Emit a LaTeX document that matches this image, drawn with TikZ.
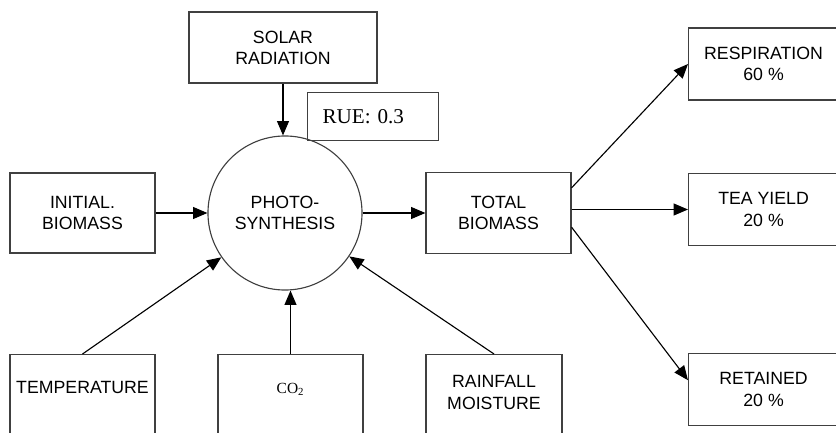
\documentclass[tikz,border=0pt]{standalone}
\usepackage{fontspec}
\setmainfont{Liberation Sans}
\newfontfamily\serifrm{Liberation Serif}
\usetikzlibrary{arrows.meta, positioning}

\tikzset{
  box/.style={draw=black!75, line width=0.8pt, minimum width=3.625cm, align=center,
    font=\fontsize{12.6}{15}\selectfont},
  sidebox/.style={box, minimum width=3.75cm, minimum height=1.8cm, anchor=west},
  lowbox/.style={box, anchor=north, text depth=3cm},
  ruebox/.style={draw=black!75, line width=0.8pt, minimum height=1.2cm, text width=2.525cm,
    inner xsep=0.375cm, align=left, font=\serifrm\fontsize{15}{17}\selectfont},
  flow/.style={-{Triangle[length=3.6mm,width=3mm]}, line width=0.8pt},
}

\begin{document}
\begin{tikzpicture}[x=0.025cm, y=-0.025cm]
  \useasboundingbox (0,0) rectangle (836,433);
  \clip (0,0) rectangle (836,433);

  % inputs and the photosynthesis step
  \node[box, minimum width=4.7cm, minimum height=1.775cm] (solar) at (283,47.5) {SOLAR\\RADIATION};
  \node[circle, draw=black!75, line width=0.8pt, minimum size=3.85cm, align=center,
    font=\fontsize{12.6}{15}\selectfont] (photo) at (285,213) {PHOTO-\\SYNTHESIS};
  \node[ruebox, anchor=north west] (rue) at (307,92) {RUE: 0.3};
  \node[box, minimum height=2cm] (init) at (82.5,213) {INITIAL.\\BIOMASS};
  \node[box, minimum height=2.025cm] (total) at (498.5,213) {TOTAL\\BIOMASS};

  % partitioning of biomass
  \node[sidebox] (resp) at (688,64) {RESPIRATION\\60 \%};
  \node[sidebox] (tea) at (688,209.5) {TEA YIELD\\20 \%};
  \node[sidebox] (ret) at (688,389.5) {RETAINED\\20 \%};

  % weather inputs
  \node[lowbox, inner ysep=0.67cm] (temp) at (82.5,354) {TEMPERATURE};
  \node[lowbox, inner ysep=0.72cm, font=\serifrm\fontsize{11}{13}\selectfont] (co2) at (290.5,354) {CO\textsubscript{2}};
  \node[lowbox, minimum width=3.4cm, inner ysep=0.53cm] (rain) at (494,354) {RAINFALL\\MOISTURE};

  \draw[flow] (solar.south) -- (solar.south |- photo.north);
  \draw[flow] (init) -- (photo);
  \draw[flow] (photo) -- (total);
  \draw[flow] (temp.north) -- (photo);
  \draw[flow] (co2.north) -- (co2.north |- photo.south);
  \draw[flow] (rain.north) -- (photo);
  \draw[flow] (total.19) -- (resp.west);
  \draw[flow] (total.east |- tea.west) -- (tea.west);
  \draw[flow] (total.-11) -- (ret.173);
\end{tikzpicture}
\end{document}
